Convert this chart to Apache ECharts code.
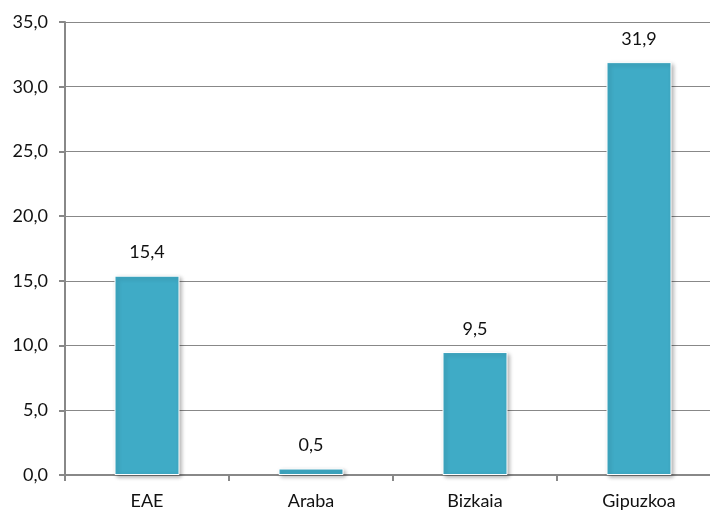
<!DOCTYPE html>
<html><head><meta charset="utf-8">
<script src="https://cdn.jsdelivr.net/npm/echarts@6/dist/echarts.min.js"></script>
<style>html,body{margin:0;padding:0;background:#fff;overflow:hidden;width:710px;height:510px}#c{width:721px;height:510px}</style>
</head><body><div id="c"></div>
<script>
const categories = ['EAE', 'Araba', 'Bizkaia', 'Gipuzkoa'];
const values = [15.4, 0.5, 9.5, 31.9];
const yMin = 0, yMax = 35, yStep = 5;
const fmt = v => Number(v).toFixed(1).replace('.', ',');
const chart = echarts.init(document.getElementById('c'));
const font = 'Lato, "Open Sans", sans-serif';
chart.setOption({
  animation: false,
  grid: { left: 65, top: 22, bottom: 35, right: 0 },
  xAxis: {
    type: 'category', data: categories,
    axisLine: { lineStyle: { color: '#888', width: 2 } },
    axisTick: { show: true, length: 6, lineStyle: { color: '#888', width: 2 } },
    axisLabel: { color: '#111', fontSize: 18, fontFamily: font, margin: 17 }
  },
  yAxis: {
    type: 'value', min: yMin, max: yMax, interval: yStep,
    axisLine: { show: true, lineStyle: { color: '#888', width: 2 } },
    axisTick: { show: true, length: 6, lineStyle: { color: '#888', width: 2 } },
    splitLine: { lineStyle: { color: '#888', width: 1 } },
    axisLabel: { color: '#111', fontSize: 18, fontFamily: font, margin: 17, formatter: fmt }
  },
  series: [{
    type: 'bar', data: values, barWidth: 65,
    itemStyle: { color: '#3FABC6', borderColor: '#fff', borderWidth: 1,
      shadowColor: 'rgba(0,0,0,0.3)', shadowBlur: 4, shadowOffsetX: 2, shadowOffsetY: 2 },
    label: { show: true, position: 'top', distance: 14, color: '#111', fontSize: 18, fontFamily: font,
      formatter: p => fmt(p.value) }
  }]
});
</script></body></html>
